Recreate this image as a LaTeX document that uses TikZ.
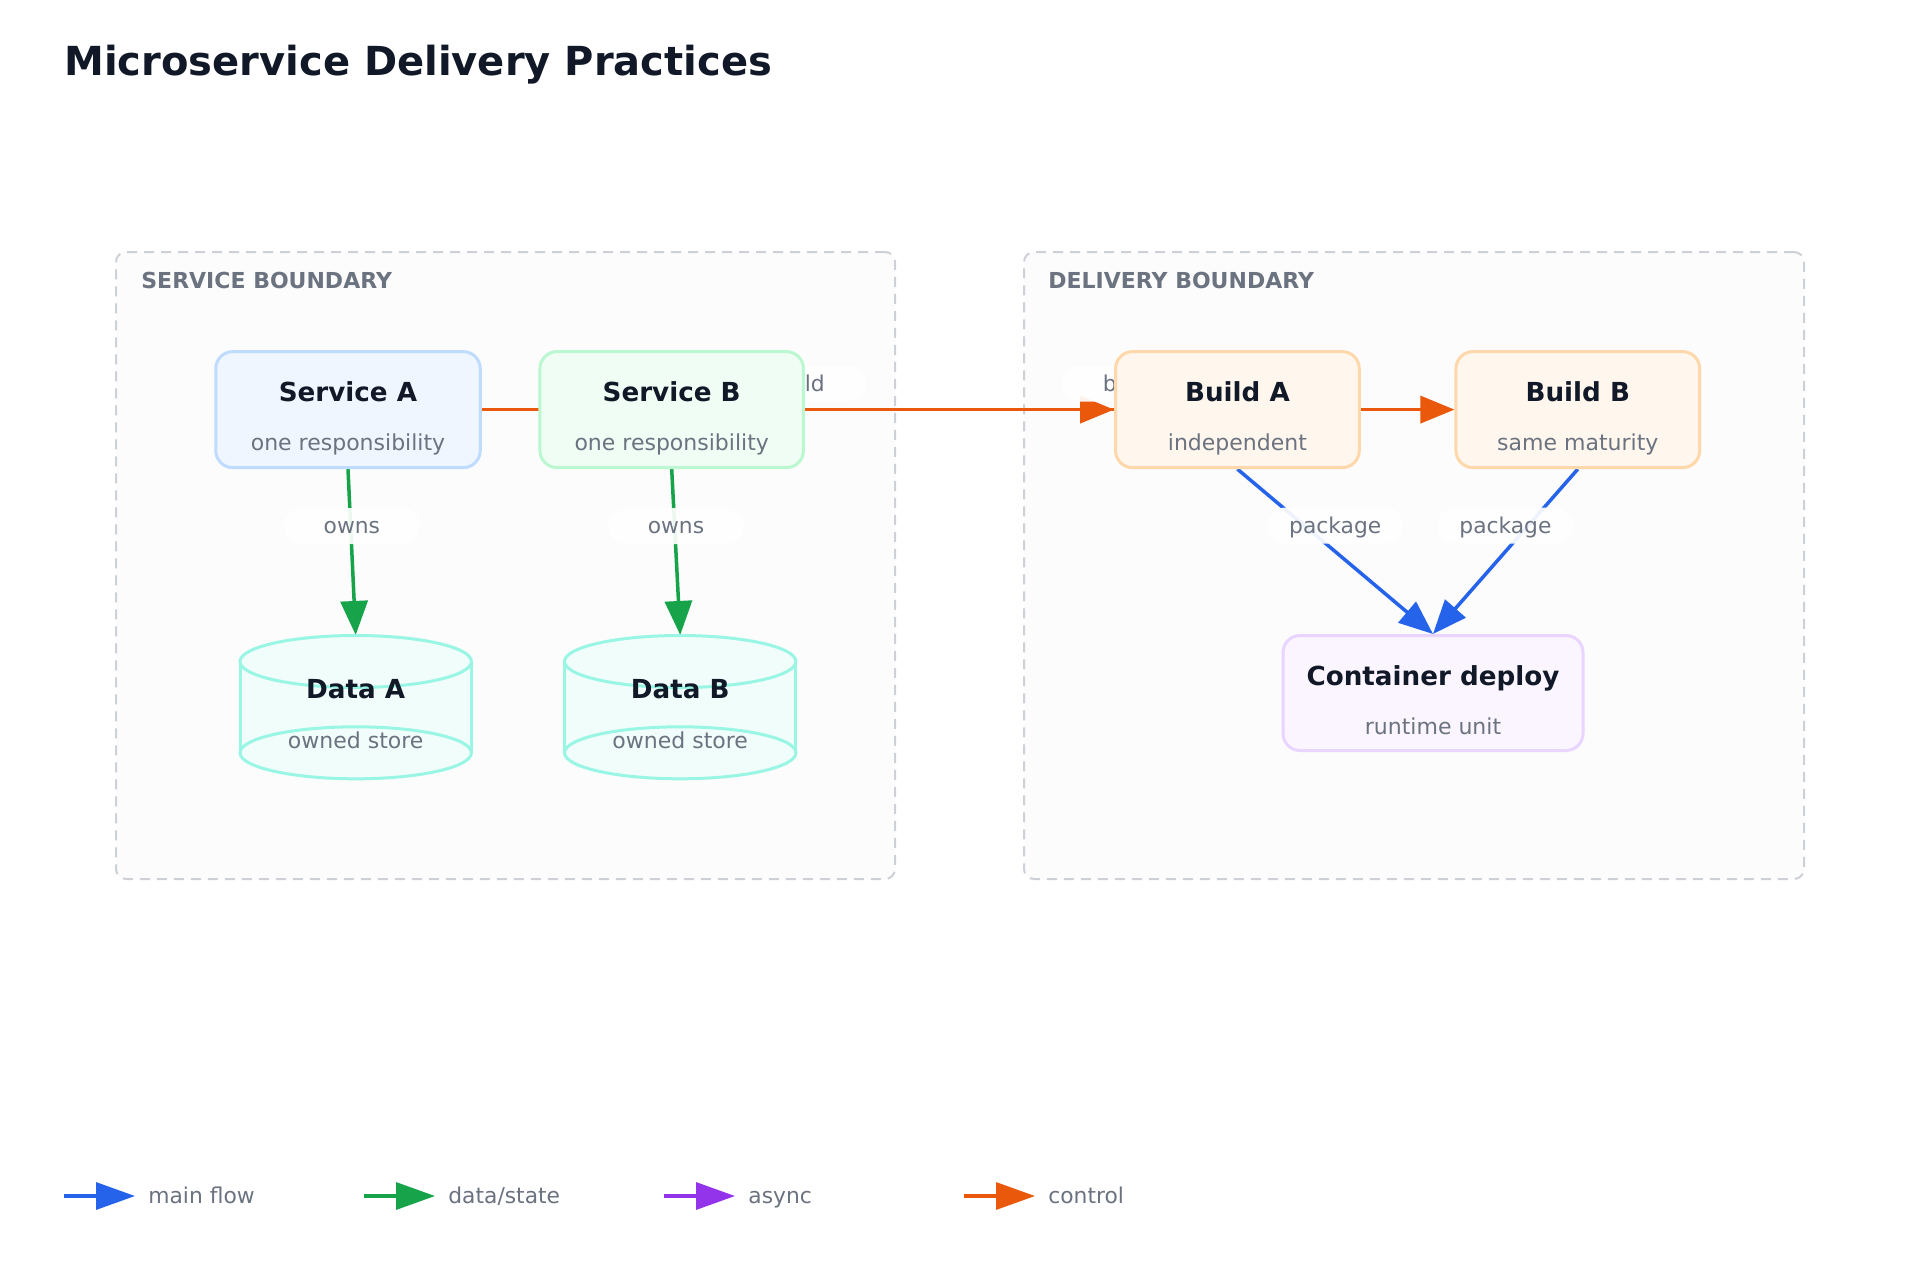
\documentclass[tikz,border=0pt]{standalone}
\usepackage{fontspec}
\setmainfont{DejaVu Sans}
\usetikzlibrary{arrows.meta,calc}
\definecolor{ink}{HTML}{111827}
\definecolor{muted}{HTML}{6B7280}
\definecolor{bordc}{HTML}{CDD1D7}
\definecolor{bndfill}{HTML}{FBFCFB}
\definecolor{cblue}{HTML}{2563EB}
\definecolor{cgreen}{HTML}{16A34A}
\definecolor{cpurple}{HTML}{9333EA}
\definecolor{corange}{HTML}{EA580C}
\definecolor{blueF}{HTML}{EFF6FF}\definecolor{blueD}{HTML}{BFDBFE}
\definecolor{greenF}{HTML}{F0FDF4}\definecolor{greenD}{HTML}{BBF7D0}
\definecolor{orF}{HTML}{FFF7ED}\definecolor{orD}{HTML}{FED7AA}
\definecolor{puF}{HTML}{FAF5FF}\definecolor{puD}{HTML}{E9D5FF}
\definecolor{teF}{HTML}{F0FDFA}\definecolor{teD}{HTML}{99F6E4}
\newcommand\mycyl[4]{% cx, ytop, ybottom, rx(pt)
  \fill[teF] (#1-2*#4,#2+26) rectangle (#1+2*#4,#3-26);
  \filldraw[fill=teF,draw=teD,line width=1.5pt] (#1,#3-26) ellipse [x radius=#4pt, y radius=13pt];
  \draw[teD,line width=1.5pt] (#1-2*#4,#2+26) -- (#1-2*#4,#3-26);
  \draw[teD,line width=1.5pt] (#1+2*#4,#2+26) -- (#1+2*#4,#3-26);
  \filldraw[fill=teF,draw=teD,line width=1.5pt] (#1,#2+26) ellipse [x radius=#4pt, y radius=13pt];
}
\begin{document}
\begin{tikzpicture}[x=0.5pt,y=-0.5pt,
  box/.style={draw, line width=1.5pt, rounded corners=8.5pt, inner sep=0, minimum height=58pt},
  ttl/.style={inner sep=0, text height=9.5pt, text depth=0pt, font=\fontsize{13.1pt}{15pt}\selectfont\bfseries, text=ink},
  subt/.style={inner sep=0, text height=8pt, text depth=0pt, font=\fontsize{11pt}{13pt}\selectfont, text=muted},
  edge/.style={line width=1.75pt, -{Triangle[length=17pt,width=13.5pt]}},
  pill/.style={fill=white, fill opacity=0.92, text opacity=1, rounded corners=9pt, minimum width=68pt, minimum height=18pt, inner sep=0, text height=7.9pt, text depth=0pt, font=\fontsize{10.9pt}{13pt}\selectfont, text=muted},
  boundary/.style={draw=bordc, fill=bndfill, line width=1pt, dash pattern=on 5pt off 3.5pt, rounded corners=5pt, inner sep=0},
  bndlabel/.style={inner sep=0, text height=8pt, text depth=0pt, font=\fontsize{11pt}{13pt}\selectfont\bfseries, text=muted, anchor=west},
  lgline/.style={line width=1.65pt, -{Triangle[length=19.5pt,width=13.5pt]}},
  lgtext/.style={inner sep=0, text height=7.9pt, text depth=0pt, font=\fontsize{10.9pt}{13pt}\selectfont, text=muted, anchor=west}
]
\useasboundingbox (0,0) rectangle (1920,1280);
\fill[white] (0,0) rectangle (1920,1280);

% title
\node[inner sep=0, text height=14.4pt, text depth=0pt, font=\fontsize{20pt}{24pt}\selectfont\bfseries, text=ink, anchor=west] (title) at (64,61) {Microservice Delivery Practices};

% boundaries
\node[boundary, minimum width=389.5pt, minimum height=313.5pt] (svcbnd) at (505.5,565.5) {};
\node[boundary, minimum width=390pt, minimum height=313.5pt] (delbnd) at (1414,565.5) {};
\node[bndlabel] (svcbndl) at (141,280) {SERVICE BOUNDARY};
\node[bndlabel] (delbndl) at (1048,280) {DELIVERY BOUNDARY};

% node geometry (invisible placeholders for anchors)
\node[box, draw=none, minimum width=132.25pt] (svcA) at (348,409.6) {};
\node[box, draw=none, minimum width=131.75pt] (svcB) at (671.7,409.6) {};
\node[box, draw=none, minimum width=121.85pt] (buildA) at (1237.4,409.6) {};
\node[box, draw=none, minimum width=121.85pt] (buildB) at (1577.8,409.6) {};
\node[box, draw=none, minimum width=150pt, minimum height=57.5pt] (deploy) at (1433,693) {};
\node[inner sep=0, minimum width=115.7pt, minimum height=71.65pt] (dataA) at (355.7,707) {};
\node[inner sep=0, minimum width=115.7pt, minimum height=71.65pt] (dataB) at (680.2,707) {};

% edges
\draw[edge, corange] (svcA.east) -- (buildA.west);
\draw[edge, corange] (svcB.east) -- (buildB.west);
\draw[edge, cgreen] (svcA.south) -- (dataA.north);
\draw[edge, cgreen] (svcB.south) -- (dataB.north);
\draw[edge, cblue] (buildA.south) -- (deploy.north);
\draw[edge, cblue] (buildB.south) -- (deploy.north);

% edge labels
\path (svcA.east) -- node[pill, yshift=13pt] (lb1) {build} (buildA.west);
\path (svcB.east) -- node[pill, yshift=13pt] (lb2) {build} (buildB.west);
\path (svcA.south) -- node[pill, yshift=13pt] (lo1) {owns} (dataA.north);
\path (svcB.south) -- node[pill, yshift=13pt] (lo2) {owns} (dataB.north);
\path (buildA.south) -- node[pill, yshift=13pt] (lp1) {package} (deploy.north);
\path (buildB.south) -- node[pill, yshift=13pt] (lp2) {package} (deploy.north);

% visible nodes
\node[box, fill=blueF, draw=blueD, minimum width=132.25pt] (svcAbox) at (svcA) {};
\node[box, fill=greenF, draw=greenD, minimum width=131.75pt] (svcBbox) at (svcB) {};
\node[box, fill=orF, draw=orD, minimum width=121.85pt] (buildAbox) at (buildA) {};
\node[box, fill=orF, draw=orD, minimum width=121.85pt] (buildBbox) at (buildB) {};
\node[box, fill=puF, draw=puD, minimum width=150pt, minimum height=57.5pt] (deploybox) at (deploy) {};
\mycyl{355.7}{635.5}{778.8}{57.85}
\mycyl{680.2}{635.5}{778.8}{57.85}

% node texts
\node[ttl] (tA) at (348,392) {Service A};
\node[subt] (sA) at (348,442) {one responsibility};
\node[ttl] (tB) at (671.7,392) {Service B};
\node[subt] (sB) at (671.7,442) {one responsibility};
\node[ttl] (tBA) at (1237.4,392) {Build A};
\node[subt] (sBA) at (1237.4,442) {independent};
\node[ttl] (tBB) at (1577.8,392) {Build B};
\node[subt] (sBB) at (1577.8,442) {same maturity};
\node[ttl] (tD) at (1433,676) {Container deploy};
\node[subt] (sD) at (1433,726) {runtime unit};
\node[ttl] (tDA) at (355.7,689) {Data A};
\node[subt] (sDA) at (355.7,740) {owned store};
\node[ttl] (tDB) at (680.2,689) {Data B};
\node[subt] (sDB) at (680.2,740) {owned store};

% legend
\coordinate (l1a) at (64,1196); \coordinate (l1b) at (135,1196);
\coordinate (l2a) at (364,1196); \coordinate (l2b) at (435,1196);
\coordinate (l3a) at (664,1196); \coordinate (l3b) at (735,1196);
\coordinate (l4a) at (964,1196); \coordinate (l4b) at (1035,1196);
\draw[lgline, cblue] (l1a) -- (l1b);
\draw[lgline, cgreen] (l2a) -- (l2b);
\draw[lgline, cpurple] (l3a) -- (l3b);
\draw[lgline, corange] (l4a) -- (l4b);
\node[lgtext] (lt1) at (148,1196) {main flow};
\node[lgtext] (lt2) at (448,1196) {data/state};
\node[lgtext] (lt3) at (748,1196) {async};
\node[lgtext] (lt4) at (1048,1196) {control};
\end{tikzpicture}
\end{document}
